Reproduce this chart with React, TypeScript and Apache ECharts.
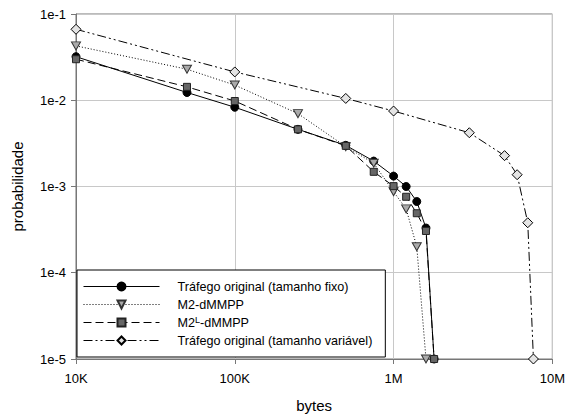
import React, { useEffect, useRef } from "react";
import * as echarts from "echarts";

const seriesNames = [
  "Tráfego original (tamanho fixo)",
  "M2-dMMPP",
  "M2L-dMMPP",
  "Tráfego original (tamanho variável)",
];

const fixedX = [1e4, 5e4, 1e5, 2.5e5, 5e5, 7.5e5, 1e6, 1.2e6, 1.4e6, 1.6e6, 1.8e6];
const fixedY = [0.032, 0.0123, 0.0083, 0.0046, 0.003, 0.00197, 0.00132, 0.001, 0.00067, 0.00033, 1e-5];

const m2X = [1e4, 5e4, 1e5, 2.5e5, 5e5, 7.5e5, 1e6, 1.2e6, 1.4e6, 1.6e6];
const m2Y = [0.0427, 0.0229, 0.015, 0.007, 0.0029, 0.00186, 0.00087, 0.00055, 0.0002, 1e-5];

const m2lX = [1e4, 5e4, 1e5, 2.5e5, 5e5, 7.5e5, 1e6, 1.2e6, 1.4e6, 1.6e6, 1.8e6];
const m2lY = [0.0299, 0.0143, 0.0098, 0.0046, 0.00296, 0.00148, 0.00101, 0.00076, 0.00049, 0.000305, 1e-5];

const varX = [1e4, 1e5, 5e5, 1e6, 3e6, 5e6, 6e6, 7e6, 7.6e6];
const varY = [0.0665, 0.0213, 0.0105, 0.0075, 0.0042, 0.00228, 0.00137, 0.00038, 1e-5];

const xTickLabels = ["10K", "100K", "1M", "10M"];
const yTickLabels = ["1e-5", "1e-4", "1e-3", "1e-2", "1e-1"];

const FONT = "Liberation Sans";

const pairs = (xs: number[], ys: number[]) => xs.map((x, i) => [x, ys[i]]);

export default function App() {
  const ref = useRef<HTMLDivElement>(null);
  useEffect(() => {
    const chart = echarts.init(ref.current!, null, { renderer: "svg" });
    const line = (name: string, data: number[][], symbol: string, size: number | number[], fill: string, border: string, type: any) => ({
      name,
      type: "line",
      data,
      symbol,
      symbolSize: size,
      itemStyle: { color: fill, borderColor: border, borderWidth: 1 },
      lineStyle: { color: "#000", width: 1, type },
      emphasis: { disabled: true },
    });
    chart.setOption({
      animation: false,
      textStyle: { fontFamily: FONT },
      grid: {
        left: 76,
        right: 11,
        top: 14,
        bottom: 60,
        show: true,
        borderColor: "#777",
        borderWidth: 1,
      },
      legend: {
        orient: "vertical",
        left: 77,
        top: 270,
        padding: [9, 13, 9, 6],
        itemWidth: 76,
        itemHeight: 10,
        itemGap: 3,
        backgroundColor: "#fff",
        borderColor: "#000",
        borderWidth: 1,
        lineStyle: { width: 1 },
        data: seriesNames,
        formatter: (n: string) =>
          n === "M2L-dMMPP" ? "{gap|}M2{sup|L}-dMMPP" : "{gap|}" + n,
        textStyle: {
          fontSize: 12.6,
          lineHeight: 15,
          color: "#000",
          fontFamily: FONT,
          rich: {
            gap: { width: 13, lineHeight: 15 },
            sup: { fontSize: 9, lineHeight: 9, padding: [0, 0, 6, 0], fontFamily: FONT, color: "#000" },
          },
        },
      },
      xAxis: {
        type: "log",
        logBase: 10,
        min: 1e4,
        max: 1e7,
        name: "bytes",
        nameLocation: "middle",
        nameGap: 39,
        nameTextStyle: { fontSize: 15, color: "#000", fontFamily: FONT },
        axisLine: { lineStyle: { color: "#777" } },
        axisTick: { show: true, inside: false, length: 5, lineStyle: { color: "#777" } },
        axisLabel: {
          fontSize: 13,
          color: "#000",
          margin: 13,
          fontFamily: FONT,
          formatter: (v: number) => xTickLabels[Math.round(Math.log10(v)) - 4],
        },
        splitLine: { show: true, lineStyle: { color: "#c8c8c8" } },
        minorTick: { show: false },
      },
      yAxis: {
        type: "log",
        logBase: 10,
        min: 1e-5,
        max: 1e-1,
        name: "probabilidade",
        nameLocation: "middle",
        nameRotate: 90,
        nameGap: 51,
        nameTextStyle: { fontSize: 15, color: "#000", fontFamily: FONT },
        axisLine: { show: true, lineStyle: { color: "#777" } },
        axisTick: { show: true, inside: false, length: 5, lineStyle: { color: "#777" } },
        axisLabel: {
          fontSize: 13,
          color: "#000",
          margin: 10,
          fontFamily: FONT,
          formatter: (v: number) => yTickLabels[Math.round(Math.log10(v)) + 5],
        },
        splitLine: { show: true, lineStyle: { color: "#c8c8c8" } },
      },
      series: [
        line(seriesNames[0], pairs(fixedX, fixedY), "circle", 8, "#000", "#000", "solid"),
        line(seriesNames[1], pairs(m2X, m2Y), "path://M0,0 L10,0 L5,9 Z", [9, 8], "#aaa", "#333", [1, 2]),
        line(seriesNames[2], pairs(m2lX, m2lY), "rect", 7, "#666", "#222", [8, 4]),
        line(seriesNames[3], pairs(varX, varY), "diamond", 10, "#e4e4e4", "#000", [9, 3, 2, 3, 2, 3]),
      ],
    });
    return () => chart.dispose();
  }, []);
  return (
    <div
      ref={ref}
      style={{ position: "fixed", left: 0, top: 0, width: 568, height: 419, background: "#fff" }}
    />
  );
}
